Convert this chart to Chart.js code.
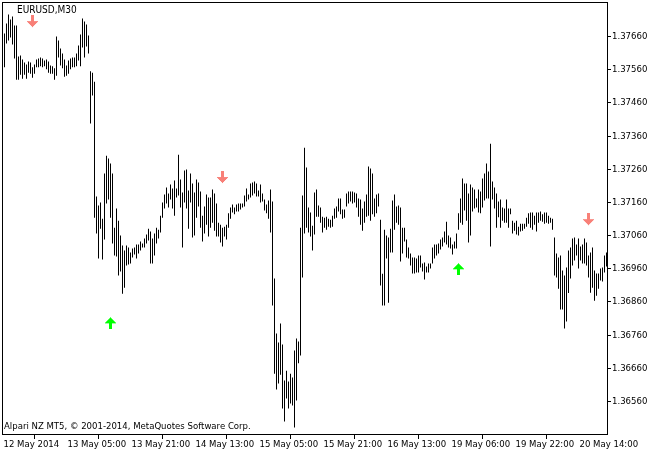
<!DOCTYPE html>
<html lang="en">
<head>
<meta charset="UTF-8" />
<title>EURUSD,M30</title>
<script src="https://cdn.jsdelivr.net/npm/chart.js"></script>
<style>
  html, body { margin: 0; padding: 0; background: #fff; }
  canvas { display: block; }
</style>
</head>
<body>
<canvas id="chart" width="659" height="454"></canvas>
<script>
  const symbol = 'EURUSD,M30';
  const footer = 'Alpari NZ MT5, \u00a9 2001-2014, MetaQuotes Software Corp.';

  // M30 bars, high / low
  const highs = [
    1.37669,1.37699,1.37726,1.37711,1.37720,1.37693,1.37693,1.37600,1.37603,1.37591,
    1.37582,1.37576,1.37585,1.37582,1.37567,1.37576,1.37591,1.37594,1.37597,1.37594,
    1.37588,1.37591,1.37585,1.37573,1.37570,1.37564,1.37660,1.37648,1.37624,1.37609,
    1.37591,1.37573,1.37588,1.37594,1.37597,1.37597,1.37609,1.37633,1.37666,1.37714,
    1.37705,1.37696,1.37663,1.37555,1.37551,1.37524,1.37178,1.37151,1.37160,1.37111,
    1.37247,1.37301,1.37292,1.37277,1.37247,1.37084,1.37142,1.37105,1.37060,1.37030,
    1.37015,1.37030,1.37024,1.37009,1.37021,1.37024,1.37033,1.37033,1.37042,1.37036,
    1.37051,1.37063,1.37081,1.37072,1.37051,1.37066,1.37084,1.37078,1.37120,1.37160,
    1.37184,1.37205,1.37187,1.37214,1.37202,1.37226,1.37202,1.37304,1.37229,1.37190,
    1.37256,1.37259,1.37196,1.37247,1.37217,1.37190,1.37229,1.37220,1.37193,1.37120,
    1.37148,1.37184,1.37175,1.37175,1.37199,1.37187,1.37157,1.37099,1.37093,1.37084,
    1.37087,1.37093,1.37127,1.37145,1.37154,1.37145,1.37154,1.37157,1.37157,1.37157,
    1.37181,1.37202,1.37184,1.37217,1.37220,1.37223,1.37217,1.37196,1.37214,1.37187,
    1.37169,1.37154,1.37166,1.37199,1.37163,1.36931,1.36765,1.36738,1.36795,1.36732,
    1.36623,1.36653,1.36620,1.36644,1.36632,1.36714,1.36750,1.36741,1.37084,1.37181,
    1.37325,1.37265,1.37145,1.37130,1.37090,1.37190,1.37199,1.37151,1.37145,1.37117,
    1.37114,1.37117,1.37111,1.37108,1.37120,1.37142,1.37148,1.37172,1.37172,1.37139,
    1.37139,1.37187,1.37193,1.37193,1.37193,1.37190,1.37187,1.37172,1.37169,1.37142,
    1.37163,1.37184,1.37268,1.37262,1.37247,1.37172,1.37184,1.37187,1.37108,1.36945,
    1.37078,1.37060,1.37054,1.37081,1.37166,1.37184,1.37148,1.37151,1.37145,1.37084,
    1.37084,1.37048,1.37024,1.37006,1.36994,1.36994,1.36991,1.37000,1.37000,1.36976,
    1.36979,1.36967,1.36976,1.36976,1.37024,1.37033,1.37033,1.37036,1.37048,1.37054,
    1.37072,1.37102,1.37060,1.37054,1.37033,1.37042,1.37066,1.37127,1.37172,1.37232,
    1.37217,1.37217,1.37187,1.37214,1.37205,1.37199,1.37172,1.37199,1.37193,1.37232,
    1.37247,1.37277,1.37253,1.37337,1.37223,1.37205,1.37187,1.37163,1.37169,1.37145,
    1.37142,1.37169,1.37142,1.37142,1.37105,1.37099,1.37105,1.37087,1.37096,1.37096,
    1.37096,1.37114,1.37127,1.37130,1.37130,1.37120,1.37130,1.37130,1.37133,1.37124,
    1.37130,1.37130,1.37120,1.37114,1.37111,1.37054,1.37006,1.36994,1.37000,1.36955,
    1.36940,1.36964,1.37015,1.37024,1.37051,1.37054,1.37033,1.37051,1.37027,1.37033,
    1.37051,1.37039,1.37000,1.37009,1.37024,1.36955,1.36946,1.36946,1.36961,1.36964,
    1.37000,1.37009
  ];
  const lows = [
    1.37567,1.37639,1.37648,1.37657,1.37636,1.37594,1.37530,1.37530,1.37545,1.37533,
    1.37545,1.37533,1.37551,1.37548,1.37536,1.37548,1.37567,1.37567,1.37570,1.37567,
    1.37570,1.37561,1.37551,1.37548,1.37548,1.37530,1.37542,1.37597,1.37573,1.37564,
    1.37539,1.37542,1.37548,1.37561,1.37567,1.37567,1.37570,1.37588,1.37570,1.37627,
    1.37597,1.37630,1.37609,1.37398,1.37482,1.37114,1.37066,1.36991,1.37081,1.36988,
    1.37048,1.37157,1.37169,1.37114,1.37036,1.37000,1.36997,1.36940,1.36952,1.36885,
    1.36903,1.36970,1.36973,1.36976,1.36994,1.37003,1.36991,1.37006,1.37015,1.37024,
    1.37024,1.37036,1.37045,1.36976,1.36976,1.37000,1.37036,1.37051,1.37069,1.37114,
    1.37142,1.37157,1.37145,1.37169,1.37142,1.37120,1.37175,1.37181,1.37145,1.37024,
    1.37160,1.37142,1.37081,1.37160,1.37054,1.37060,1.37114,1.37148,1.37084,1.37042,
    1.37066,1.37093,1.37057,1.37084,1.37099,1.37075,1.37057,1.37057,1.37039,1.37027,
    1.37057,1.37048,1.37084,1.37111,1.37130,1.37124,1.37133,1.37133,1.37139,1.37145,
    1.37148,1.37163,1.37169,1.37175,1.37181,1.37187,1.37178,1.37178,1.37160,1.37163,
    1.37136,1.37127,1.37111,1.37069,1.36849,1.36644,1.36596,1.36614,1.36641,1.36539,
    1.36500,1.36569,1.36539,1.36554,1.36548,1.36482,1.36563,1.36675,1.36699,1.36934,
    1.37066,1.37084,1.37069,1.37057,1.37015,1.37063,1.37117,1.37117,1.37099,1.37069,
    1.37084,1.37078,1.37087,1.37084,1.37087,1.37111,1.37114,1.37133,1.37124,1.37111,
    1.37114,1.37148,1.37157,1.37163,1.37157,1.37160,1.37145,1.37117,1.37093,1.37075,
    1.37099,1.37117,1.37120,1.37105,1.37124,1.37117,1.37127,1.37148,1.36910,1.36849,
    1.36849,1.36991,1.36858,1.37009,1.37009,1.37078,1.37099,1.37093,1.36982,1.37006,
    1.37042,1.36994,1.36991,1.36970,1.36946,1.36946,1.36949,1.36949,1.36964,1.36952,
    1.36928,1.36949,1.36949,1.36961,1.36976,1.36991,1.37000,1.37006,1.37018,1.37027,
    1.37039,1.37033,1.37024,1.37021,1.37003,1.37021,1.37021,1.37078,1.37099,1.37093,
    1.37136,1.37105,1.37039,1.37060,1.37133,1.37142,1.37145,1.37130,1.37127,1.37145,
    1.37166,1.37172,1.37172,1.37027,1.37169,1.37142,1.37084,1.37115,1.37084,1.37105,
    1.37099,1.37099,1.37084,1.37124,1.37066,1.37075,1.37063,1.37060,1.37072,1.37075,
    1.37081,1.37087,1.37096,1.37084,1.37078,1.37093,1.37072,1.37099,1.37105,1.37102,
    1.37096,1.37099,1.37096,1.37099,1.37078,1.36940,1.36934,1.36900,1.36837,1.36837,
    1.36780,1.36801,1.36887,1.36931,1.36970,1.36985,1.37000,1.36961,1.36985,1.36976,
    1.36976,1.36970,1.36934,1.36888,1.36903,1.36864,1.36879,1.36900,1.36925,1.36922,
    1.36949,1.36967
  ];

  // time axis: bar index of each label
  const timeTickBars = [-1, 31, 63, 95, 127, 159, 191, 223, 255, 287];
  const timeTickLabels = ['12 May 2014', '13 May 05:00', '13 May 21:00', '14 May 13:00', '15 May 05:00',
                          '15 May 21:00', '16 May 13:00', '19 May 06:00', '19 May 22:00', '20 May 14:00'];
  const priceTicks = [1.36560, 1.36660, 1.36760, 1.36860, 1.36960, 1.37060,
                      1.37160, 1.37260, 1.37360, 1.37460, 1.37560, 1.37660];

  // signal arrows
  const downArrowBars = [14, 109, 292];
  const downArrowPrices = [1.37705, 1.37235, 1.37108];
  const upArrowBars = [53, 227];
  const upArrowPrices = [1.36797, 1.36960];

  const fontFamily = '"DejaVu Sans Condensed", "DejaVu Sans", sans-serif';

  function makeArrow(color, down) {
    const c = document.createElement('canvas');
    c.width = 11;
    c.height = 13;
    const g = c.getContext('2d');
    g.fillStyle = color;
    // shaft
    g.fillRect(4, down ? 0 : 6, 3, 7);
    // head
    for (let k = 0; k < 6; k++) {
      const row = down ? 6 + k : 6 - k;
      g.fillRect(k, row, 11 - 2 * k, 1);
    }
    return c;
  }

  const chartFrame = {
    id: 'chartFrame',
    afterDraw(chart) {
      const { ctx, chartArea: a } = chart;
      ctx.save();
      ctx.strokeStyle = '#000';
      ctx.lineWidth = 1;
      ctx.strokeRect(a.left + 0.5, a.top + 0.5, a.right - a.left, a.bottom - a.top);
      ctx.fillStyle = '#000';
      ctx.textBaseline = 'alphabetic';
      ctx.textAlign = 'left';
      ctx.font = '10px ' + fontFamily;
      ctx.fillText(symbol, 17, 13);
      ctx.font = '9.5px ' + fontFamily;
      ctx.fillText(footer, 4, 429);
      ctx.restore();
    }
  };

  const ctx = document.getElementById('chart').getContext('2d');
  new Chart(ctx, {
    type: 'bar',
    data: {
      datasets: [
        {
          label: symbol,
          data: highs.map((h, i) => ({ x: i, y: [lows[i], h] })),
          backgroundColor: '#000',
          borderWidth: 0,
          barThickness: 1,
          inflateAmount: 0,
          minBarLength: 1
        },
        {
          type: 'scatter',
          label: 'sell',
          data: downArrowBars.map((b, i) => ({ x: b, y: downArrowPrices[i] })),
          pointStyle: makeArrow('#f88078', true)
        },
        {
          type: 'scatter',
          label: 'buy',
          data: upArrowBars.map((b, i) => ({ x: b, y: upArrowPrices[i] })),
          pointStyle: makeArrow('#00ff00', false)
        }
      ]
    },
    options: {
      responsive: false,
      animation: false,
      events: [],
      layout: { autoPadding: false, padding: { left: 2, top: 2, right: 0, bottom: 0 } },
      plugins: { legend: { display: false }, tooltip: { enabled: false } },
      scales: {
        x: {
          type: 'linear',
          min: -1.25,
          max: 301.25,
          offset: false,
          border: { display: false },
          grid: { drawOnChartArea: false, drawTicks: true, tickLength: 5, color: '#000' },
          afterBuildTicks: s => { s.ticks = timeTickBars.map(v => ({ value: v })); },
          afterFit: s => { s.height = 20; s.paddingLeft = 0; s.paddingRight = 0; },
          ticks: {
            autoSkip: false,
            maxRotation: 0,
            align: 'start',
            labelOffset: 1,
            padding: 0,
            color: '#000',
            font: { family: fontFamily, size: 9.5 },
            callback: (v, i) => timeTickLabels[i]
          }
        },
        y: {
          position: 'right',
          min: 1.364621,
          max: 1.377640,
          border: { display: false },
          grid: { drawOnChartArea: false, drawTicks: true, tickLength: 4, color: '#000' },
          afterBuildTicks: s => { s.ticks = priceTicks.map(v => ({ value: v })); },
          afterFit: s => { s.width = 52; s.paddingTop = 0; s.paddingBottom = 0; },
          ticks: {
            padding: 1,
            color: '#000',
            font: { family: fontFamily, size: 9.5 },
            callback: v => v.toFixed(5)
          }
        }
      }
    },
    plugins: [chartFrame]
  });
</script>
</body>
</html>
